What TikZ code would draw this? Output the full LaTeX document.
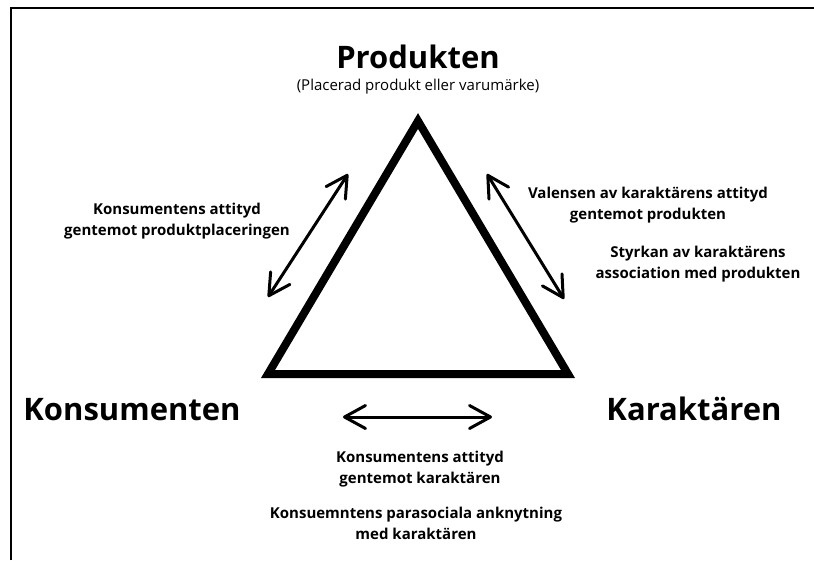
\documentclass[tikz,border=0pt]{standalone}
\usepackage{fontspec}
\setmainfont{Open Sans}
\usetikzlibrary{arrows.meta}
\tikzset{
  cornerlabel/.style={font=\fontsize{31}{36}\selectfont\bfseries, inner sep=0pt},
  sidelabel/.style={font=\fontsize{15}{21}\selectfont\bfseries, align=center, inner sep=0pt},
  twoway/.style={line width=3pt, {Straight Barb[round,length=21pt,width=23pt]}-{Straight Barb[round,length=21pt,width=23pt]}},
}
\begin{document}
\begin{tikzpicture}[x=1pt, y=-1pt]
\useasboundingbox (0,0) rectangle (814,560);
\draw[line width=2pt] (11,560) -- (11,8) -- (814,8);
% triangle
\coordinate (top) at (418,121);
\coordinate (left) at (268,374);
\coordinate (right) at (568,374);
\draw[line width=8pt, miter limit=10] (top) -- (left) -- (right) -- cycle;
% corner labels
\node[cornerlabel, anchor=base] (produkten) at (418,68) {Produkten};
\node[font=\fontsize{15}{18}\selectfont, inner sep=0pt, anchor=base] (placerad) at (418,90) {(Placerad produkt eller varumärke)};
\node[cornerlabel, anchor=base] (konsumenten) at (132,420) {Konsumenten};
\node[cornerlabel, anchor=base] (karaktaren) at (694,420) {Karaktären};
% arrows
\coordinate (a1) at (268,297);
\coordinate (a2) at (348,174);
\coordinate (b1) at (487,174);
\coordinate (b2) at (564,299);
\coordinate (c1) at (343,417);
\coordinate (c2) at (492,417);
\draw[twoway] (a1) -- (a2);
\draw[twoway] (b1) -- (b2);
\draw[twoway] (c1) -- (c2);
% relation labels
\node[sidelabel] (attityd) at (177,221) {Konsumentens attityd\\gentemot produktplaceringen};
\node[sidelabel] (valens) at (648,205) {Valensen av karaktärens attityd\\gentemot produkten};
\node[sidelabel] (styrka) at (698,264) {Styrkan av karaktärens\\association med produkten};
\node[sidelabel] (karaktarattityd) at (420,469) {Konsumentens attityd\\gentemot karaktären};
\node[sidelabel] (parasocial) at (416,523) {Konsuemntens parasociala anknytning\\med karaktären};
\end{tikzpicture}
\end{document}
